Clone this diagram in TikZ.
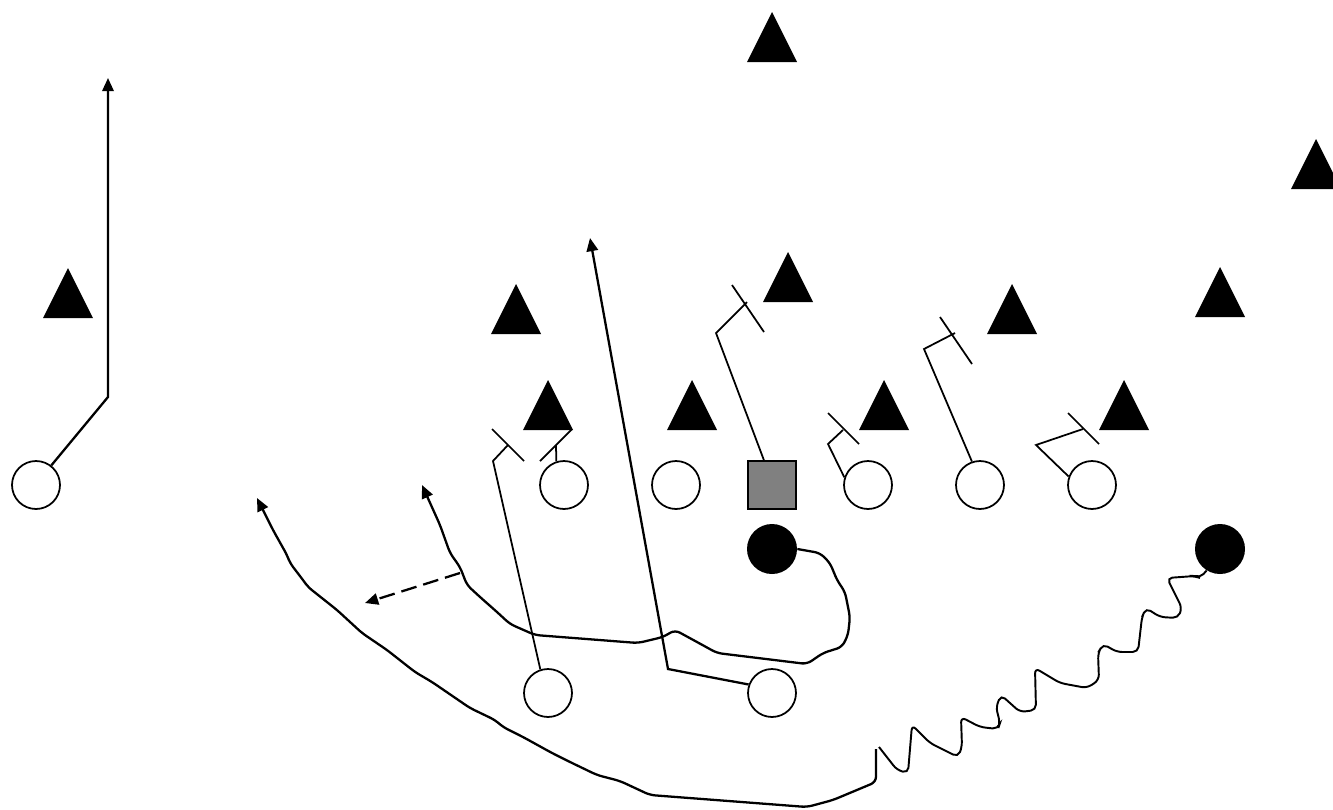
\documentclass[tikz,border=0pt]{standalone}
\usetikzlibrary{arrows.meta}
\begin{document}
\begin{tikzpicture}[x=0.02cm, y=-0.02cm,
    offense/.style={circle, draw, line width=1pt, fill=white, minimum size=0.96cm, inner sep=0pt},
    snap/.style={rectangle, draw, line width=1pt, fill=gray, minimum size=0.96cm, inner sep=0pt},
    runner/.style={circle, fill=black, minimum size=1cm, inner sep=0pt},
    route/.style={line width=1.3pt, -{Triangle[length=7.5pt,width=6.5pt]}},
    block/.style={line width=1pt}]
    \useasboundingbox (0,0) rectangle (1333,809);

    % Defense
    \foreach \x/\y in {772/12, 1316/139, 68/268, 516/284, 788/252, 1012/284,
                       1220/267, 548/380, 692/380, 884/380, 1124/380} {
        \fill (\x,\y) -- ++(-25,50) -- ++(50,0) -- cycle;
    }

    % Offense
    \node[offense] (wr) at (36,485) {};
    \node[offense] (g1) at (564,485) {};
    \node[offense] (g2) at (676,485) {};
    \node[snap] (c) at (772,485) {};
    \node[offense] (t1) at (868,485) {};
    \node[offense] (t2) at (980,485) {};
    \node[offense] (te) at (1092,485) {};
    \node[runner] (rb) at (772,549) {};
    \node[runner] (wb) at (1220,549) {};
    \node[offense] (h1) at (548,693) {};
    \node[offense] (h2) at (772,693) {};

    % Split end
    \draw[route] (wr.52) -- (108,397) -- (108,78);

    % Blocks
    \draw[block] (g1.108) -- (556,445);
    \draw[block] (h1.108) -- (493,461) -- (508,445);
    \draw[block] (c.108) -- (716,333) -- (747,302);
    \draw[block] (t1.162) -- (828,444) -- (843,430);
    \draw[block] (t2.109) -- (924,349) -- (955,333);
    \draw[block] (te.160) -- (1036,445) -- (1083,429);
    \foreach \xa/\ya/\xb/\yb in {540/461/572/429, 492/429/524/461, 732/285/764/332,
                                 828/413/859/444, 940/317/972/364, 1068/413/1099/444} {
        \draw[block] (\xa,\ya) -- (\xb,\yb);
    }

    % Up the seam
    \draw[route] (h2.160) -- (668,669) -- (590,238);

    % Ball carrier
    \draw[route, rounded corners=3pt] (rb.east) -- (820,553) -- (830,563) -- (837,580)
        -- (845,592) -- (850,617) -- (848,635) -- (842,647) -- (823,653) -- (807,664)
        -- (717,653) -- (697,642) -- (675,630) -- (663,637) -- (638,643) -- (535,635)
        -- (510,624) -- (497,612) -- (480,597) -- (467,585) -- (460,567) -- (450,553)
        -- (440,525) -- (422,485);
    \coordinate (pitch) at (460,573);
    \draw[route, dash pattern=on 9pt off 4pt] (pitch) -- (365,603);

    % Motion
    \draw[line width=1.1pt, rounded corners=3pt] (wb.238) -- (1200,578) -- (1195,576)
        -- (1167,578) -- (1182,608) -- (1178,618) -- (1160,617) -- (1146,608) -- (1142,617)
        -- (1138,652) -- (1117,652) -- (1103,644) -- (1098,653) -- (1099,680) -- (1087,688)
        -- (1060,683) -- (1035,668) -- (1036,710) -- (1020,712) -- (1001,695) -- (996,707)
        -- (1000,723) -- (998,729) -- (980,727) -- (961,717) -- (962,747) -- (958,757)
        -- (930,743) -- (912,725) -- (908,773) -- (897,770) -- (879,747);
    \coordinate (turn) at (876,749);
    \draw[route, rounded corners=3pt] (turn) -- (876,782) -- (833,800) -- (807,807)
        -- (650,795) -- (620,781) -- (597,775) -- (570,762) -- (552,753) -- (523,737)
        -- (503,727) -- (495,720) -- (470,708) -- (432,682) -- (415,672) -- (387,650)
        -- (362,633) -- (337,610) -- (308,587) -- (303,580) -- (290,563) -- (287,555)
        -- (273,530) -- (257,498);
\end{tikzpicture}
\end{document}
